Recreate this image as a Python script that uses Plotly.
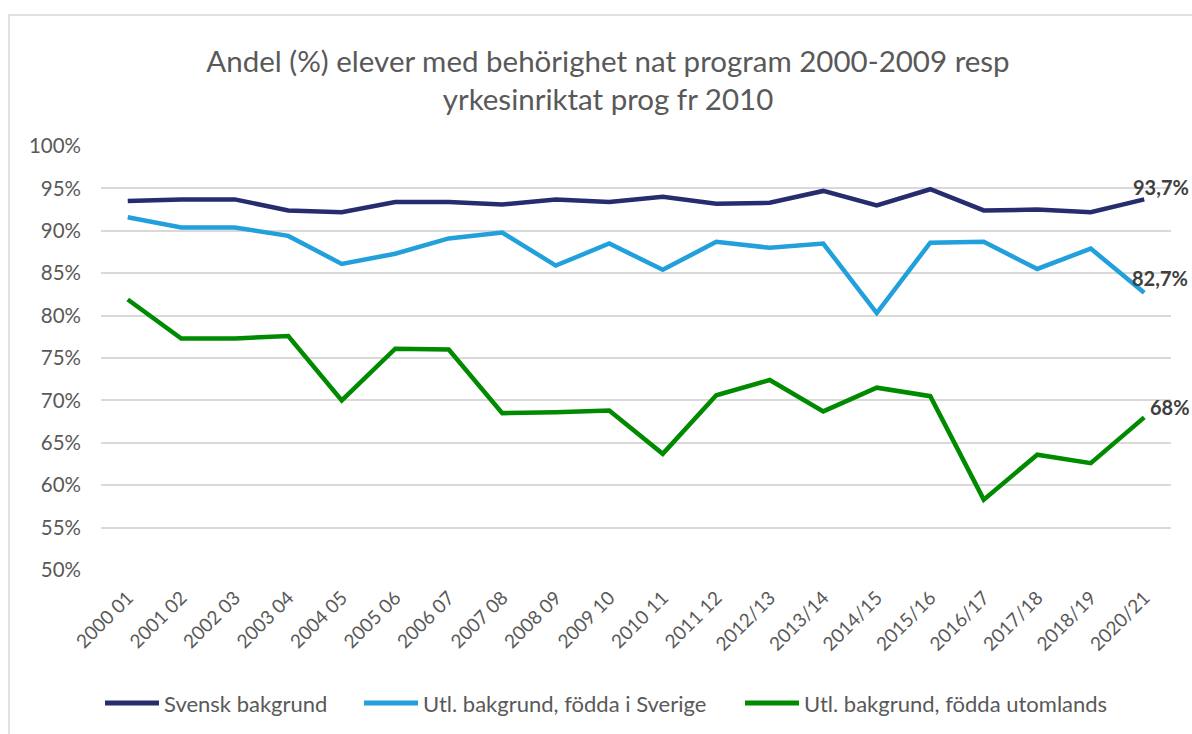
import plotly.graph_objects as go

perioder = ["2000 01", "2001 02", "2002 03", "2003 04", "2004 05", "2005 06",
            "2006 07", "2007 08", "2008 09", "2009 10", "2010 11", "2011 12",
            "2012/13", "2013/14", "2014/15", "2015/16", "2016/17", "2017/18",
            "2018/19", "2020/21"]

svensk = [93.5, 93.7, 93.7, 92.4, 92.2, 93.4, 93.4, 93.1, 93.7, 93.4,
          94.0, 93.2, 93.3, 94.7, 93.0, 94.9, 92.4, 92.5, 92.2, 93.7]
fodda_sverige = [91.6, 90.4, 90.4, 89.4, 86.1, 87.3, 89.1, 89.8, 85.9, 88.5,
                 85.4, 88.7, 88.0, 88.5, 80.3, 88.6, 88.7, 85.5, 87.9, 82.7]
fodda_utomlands = [81.9, 77.3, 77.3, 77.6, 70.0, 76.1, 76.0, 68.5, 68.6, 68.8,
                   63.7, 70.6, 72.4, 68.7, 71.5, 70.5, 58.3, 63.6, 62.6, 68.0]

serier = ["Svensk bakgrund", "Utl. bakgrund, födda i Sverige", "Utl. bakgrund, födda utomlands"]
farger = ["#262c6e", "#21a0dc", "#008a00"]
slutetiketter = ["93,7%", "82,7%", "68%"]

FONT = "Lato"
GRA = "#595959"

B, H = 1192, 734
L, T, R, NED = 101, 146, 21, 164
pw, ph = B - L - R, H - T - NED


def px(x):
    return (x - L) / pw


def py(y):
    return (H - NED - y) / ph


fig = go.Figure()
for namn, varden, farg in zip(serier, [svensk, fodda_sverige, fodda_utomlands], farger):
    fig.add_trace(go.Scatter(x=perioder, y=varden, name=namn, mode="lines",
                             line=dict(color=farg, width=4.5), showlegend=False))

# etiketter vid sista punkten
for varden, text, dx, dy in zip([svensk, fodda_sverige, fodda_utomlands], slutetiketter,
                                 [-13, -14, 4], [12, 15, 10]):
    fig.add_annotation(x=perioder[-1], y=varden[-1], text="<b>%s</b>" % text,
                       showarrow=False, xanchor="left", yanchor="middle",
                       xshift=dx, yshift=dy,
                       font=dict(family=FONT, size=20, color="#404040"))

# förklaring, ritad för hand för att få längre linjer
for namn, farg, x0 in zip(serier, farger, [105, 364, 745]):
    fig.add_shape(type="line", xref="paper", yref="paper",
                  x0=px(x0), x1=px(x0 + 54), y0=py(703), y1=py(703),
                  line=dict(color=farg, width=5))
    fig.add_annotation(xref="paper", yref="paper", x=px(x0 + 57), y=py(703),
                       text=namn, showarrow=False, xanchor="left", yanchor="middle",
                       font=dict(family=FONT, size=22, color=GRA))

# ram runt diagrammet
fig.add_shape(type="rect", xref="paper", yref="paper",
              x0=px(9), x1=px(1210), y0=py(760), y1=py(15),
              line=dict(color="#d9d9d9", width=1.5), layer="below")

fig.update_layout(
    width=B, height=H,
    margin=dict(l=L, r=R, t=T, b=NED),
    paper_bgcolor="white", plot_bgcolor="white",
    font=dict(family=FONT, color=GRA),
    title=dict(text="Andel (%) elever med behörighet nat program 2000-2009 resp<br>yrkesinriktat prog fr 2010",
               x=608 / B, xanchor="center", y=1 - 72 / H, yanchor="middle", yref="container",
               font=dict(family=FONT, size=29.5, color=GRA)),
    xaxis=dict(type="category", range=[-0.5, len(perioder) - 0.5], tickangle=-45,
               showgrid=False, showline=False, ticks="", ticklabelstandoff=12,
               tickfont=dict(family=FONT, size=19, color=GRA)),
    yaxis=dict(range=[50, 100], dtick=5, ticksuffix="%", showgrid=True,
               gridcolor="#d9d9d9", gridwidth=1.5, zeroline=False, showline=False,
               ticklabelstandoff=19, tickfont=dict(family=FONT, size=20.5, color=GRA)),
)

# ta bort sidans marginal så att figuren fyller fönstret
fig.write_html("out.html", config={"displayModeBar": False},
               post_script="document.body.style.margin='0';document.body.style.overflow='hidden';")
